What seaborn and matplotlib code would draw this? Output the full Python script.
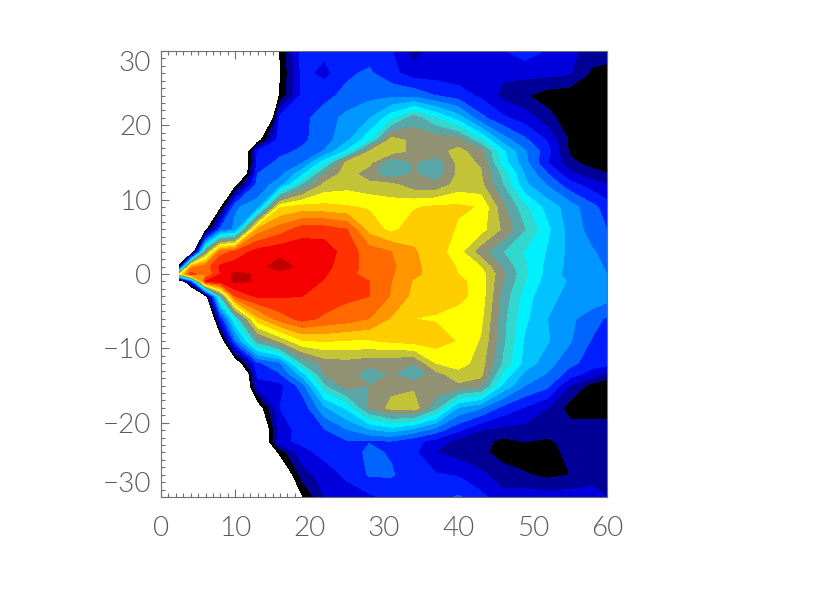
import matplotlib
matplotlib.use("Agg")
import matplotlib.pyplot as plt
import numpy as np
import seaborn as sns

x_nodes = [2.5, 4, 6, 8, 10, 13, 16, 19, 22, 25, 28, 31, 34, 37, 40, 43, 46, 49, 52, 55, 58, 61]
y_nodes = [30, 27, 24, 21, 18, 16.5, 15, 13.5, 12, 9, 6, 3, 1, 0, -1, -3, -6, -9, -12, -13.5, -15, -18, -21, -22.5, -24, -27, -30]

# colour band index read at each node, one row per y, negative means no data (white)
band_rows = [
    [-5, -5, -5, -5, -5, -3, 0.05, 3.5, 3.2, 3.3, 3.4, 3.05, 1.5, 2.5, 2.5, 2.5, 2.9, 3.5, 2.9, 2.3, 1.5, 1.5],
    [-5, -5, -5, -5, -5, -3, -0.1, 3.3, 2.7, 3.8, 4.2, 3.3, 2.5, 2.5, 2.4, 2.3, 2.2, 2.3, 2.3, 2.1, 0.8, 0.5],
    [-5, -5, -5, -5, -5, -3, 0.1, 3.3, 3.7, 4.3, 4.7, 4.8, 4.7, 4.0, 3.5, 2.8, 1.7, 1.1, 0.5, 0.3, 0.3, 0.3],
    [-9, -9, -9, -9, -9, -8, 3.3, 3.7, 4.5, 5.3, 5.9, 7.6, 9.5, 8.0, 6.5, 4.3, 3.2, 2.5, 1.4, 0.4, 0.3, 0.3],
    [-5, -5, -5, -5, -5, -0.7, 3.6, 3.8, 4.5, 5.8, 7.7, 11.5, 10.7, 10.6, 10.5, 8.2, 5.5, 4.2, 2.9, 0.8, 0.4, 0.3],
    [-5, -5, -5, -5, -5, 3.2, 3.7, 4.2, 5.1, 7.2, 11.05, 11.5, 10.7, 10.6, 11.3, 10.5, 7.2, 5.1, 3.4, 0.8, 0.4, 0.3],
    [-5, -5, -5, -5, -5, 3.3, 4.3, 4.9, 7.6, 11.3, 11.3, 9.0, 10.1, 9.3, 11.3, 10.9, 7.5, 5.3, 3.0, 1.3, 0.5, 0.3],
    [-5, -5, -5, -5, -5, 4.0, 4.7, 6.7, 10.0, 11.5, 10.4, 9.1, 10.1, 9.4, 11.2, 11.1, 8.6, 5.9, 4.0, 2.3, 1.4, 0.9],
    [-5, -5, -5, -5, -0.5, 4.4, 5.5, 9.0, 11.3, 11.6, 11.3, 11.3, 10.4, 10.3, 11.4, 11.3, 9.0, 6.2, 4.9, 3.4, 2.5, 1.8],
    [-5, -5, -5, -0.3, 4.9, 5.4, 12.9, 13.4, 13.3, 13.1, 12.9, 12.5, 12.9, 13.2, 13.2, 12.9, 10.3, 8.2, 6.6, 5.5, 4.3, 3.2],
    [-5, -5, -0.5, 4.3, 5.2, 14.4, 15.5, 16.5, 16.5, 16.0, 13.6, 12.7, 13.6, 13.9, 12.8, 12.4, 10.8, 9.0, 7.2, 5.6, 4.6, 3.7],
    [-9, -3, 10, 15.5, 16.3, 17.4, 17.7, 17.7, 17.6, 16.5, 15.5, 15.0, 14.1, 13.5, 12.4, 10.4, 9.0, 7.9, 6.9, 5.7, 5.1, 4.5],
    [1, 14.5, 15.5, 17.2, 17.5, 17.7, 18.4, 17.7, 17.2, 16.6, 15.5, 15.2, 14.2, 13.6, 12.9, 12.0, 9.8, 8.1, 6.7, 5.7, 5.2, 4.8],
    [12, 16.5, 15, 17, 18.2, 17.9, 17.7, 17.7, 17.1, 16.4, 15.5, 15.1, 14.2, 13.6, 13.0, 12.5, 10.2, 8.2, 6.6, 5.6, 5.2, 4.9],
    [-3, 3, 17, 17.5, 18.2, 17.9, 17.6, 17.5, 16.9, 16.4, 16.0, 15.0, 13.9, 13.4, 13.3, 12.5, 10.0, 8.0, 6.5, 5.9, 5.5, 5.1],
    [-8, -6, -1, 9, 16.0, 17.2, 17.1, 17.0, 16.7, 16.2, 16.0, 14.9, 13.7, 13.4, 13.3, 12.6, 9.6, 7.5, 6.1, 5.9, 5.6, 5.3],
    [-5, -5, -5, 3.2, 8, 13.7, 15.5, 16.4, 15.8, 15.5, 15, 13.9, 13, 12.9, 12.5, 12.3, 9.3, 7.2, 6, 5.2, 4.5, 3.5],
    [-5, -5, -5, -1.5, 4.7, 9.5, 11.2, 12.9, 13.1, 12.9, 12.9, 13.2, 13.4, 13.5, 12.9, 11.9, 9.2, 6.8, 6.1, 5.1, 3.9, 3.1],
    [-5, -5, -5, -5, -1.5, 3.8, 4.8, 9, 10.4, 10.6, 10.3, 10.2, 10.0, 12, 12.5, 11.5, 8.8, 6.6, 5.4, 4.3, 3.5, 3.2],
    [-6, -6, -6, -6, -6, 3.3, 3.9, 6.5, 10.0, 10.6, 9.3, 10.1, 9.0, 10.6, 11.6, 11.3, 7.8, 5.7, 4.9, 3.5, 2.5, 1.2],
    [-5, -5, -5, -5, -5, 2.5, 2.7, 4.5, 8.8, 10.5, 10.0, 10.7, 10.8, 10.7, 10.8, 10.3, 6.8, 5.0, 4.3, 2.0, 0.6, 0.3],
    [-5, -5, -5, -5, -5, -1, 3.0, 3.3, 5.8, 7.2, 10.1, 11.3, 11.6, 9.2, 5.9, 5.1, 3.7, 2.9, 2.0, 0.5, 0.4, 0.4],
    [-5, -5, -5, -5, -5, -3, 2.5, 3.4, 3.9, 4.9, 5.8, 6.4, 5.6, 4.5, 3.2, 2.0, 1.7, 1.6, 1.5, 1.5, 1.5, 1.5],
    [-5, -5, -5, -5, -5, -3, 2.8, 3.2, 3.5, 3.9, 3.95, 3.95, 3.3, 2.6, 1.6, 1.4, 0.7, 1.05, 0.8, 1.4, 1.5, 1.5],
    [-5, -5, -5, -5, -5, -3, 0.3, 2.7, 3.3, 3.5, 4.2, 3.9, 3.2, 2.0, 1.6, 1.3, 0.5, 0.4, 0.4, 1.4, 1.5, 1.5],
    [-5, -5, -5, -5, -5, -5, -2, 1.5, 2.5, 3.2, 4.1, 4.1, 3.4, 3.1, 2.9, 2.2, 1.5, 1.1, 0.7, 1.0, 1.6, 1.5],
    [-8, -8, -8, -8, -8, -8, -8, -0.1, 2.0, 2.5, 2.8, 3.3, 3.5, 3.5, 4.1, 3.3, 2.3, 2.5, 2.5, 2.5, 2.4, 1.8],
]

band_colors = [
    "#000000", "#000096", "#0000dc", "#001eff", "#0064ff", "#0096ff", "#00c3ff",
    "#00f0ff", "#32d7cd", "#5aa5a5", "#919173", "#c3c337", "#ffff00", "#ffcd00",
    "#ff9600", "#ff6900", "#ff3200", "#f50000", "#be0000",
]
x_ticks = [0, 10, 20, 30, 40, 50, 60]
y_ticks = [-30, -20, -10, 0, 10, 20, 30]
y_tick_labels = ["\u221230", "\u221220", "\u221210", "0", "10", "20", "30"]

sns.set_theme(style="white")
plt.rcParams["font.family"] = ["Lato", "DejaVu Sans"]
grey = "#707070"
label_grey = "#5a5a5a"

fig = plt.figure(figsize=(8.3, 6.0), dpi=100)
ax = fig.add_axes([161 / 830, 103 / 600, 446 / 830, 446 / 600])

z = np.array(band_rows)[::-1]
y = np.array(y_nodes)[::-1]
palette = sns.color_palette(band_colors)
ax.contourf(x_nodes, y, z, levels=np.arange(0, 20), colors=palette)

ax.set_xlim(0, 60)
ax.set_ylim(-30, 30)
ax.set_xticks(x_ticks)
ax.set_yticks(y_ticks)
ax.set_yticklabels(y_tick_labels)
ax.set_xticks(np.arange(0, 61, 1), minor=True)
ax.set_yticks(np.arange(-30, 31, 1), minor=True)
ax.tick_params(which="major", direction="in", length=6, width=0.8, color=grey,
               top=True, right=True, left=True, bottom=True)
ax.tick_params(which="minor", direction="in", length=3, width=0.8, color=grey,
               top=True, right=True, left=True, bottom=True)
ax.tick_params(axis="x", which="major", pad=14, labelsize=20, labelcolor=label_grey)
ax.tick_params(axis="y", which="major", pad=7, labelsize=20, labelcolor=label_grey)
for lab in ax.get_xticklabels() + ax.get_yticklabels():
    lab.set_fontweight(300)
ylabs = ax.get_yticklabels()
ylabs[0].set_verticalalignment("bottom")
ylabs[-1].set_verticalalignment("top")
for sp in ax.spines.values():
    sp.set_color(grey)
    sp.set_linewidth(0.8)

fig.savefig("out.png", dpi=100)
